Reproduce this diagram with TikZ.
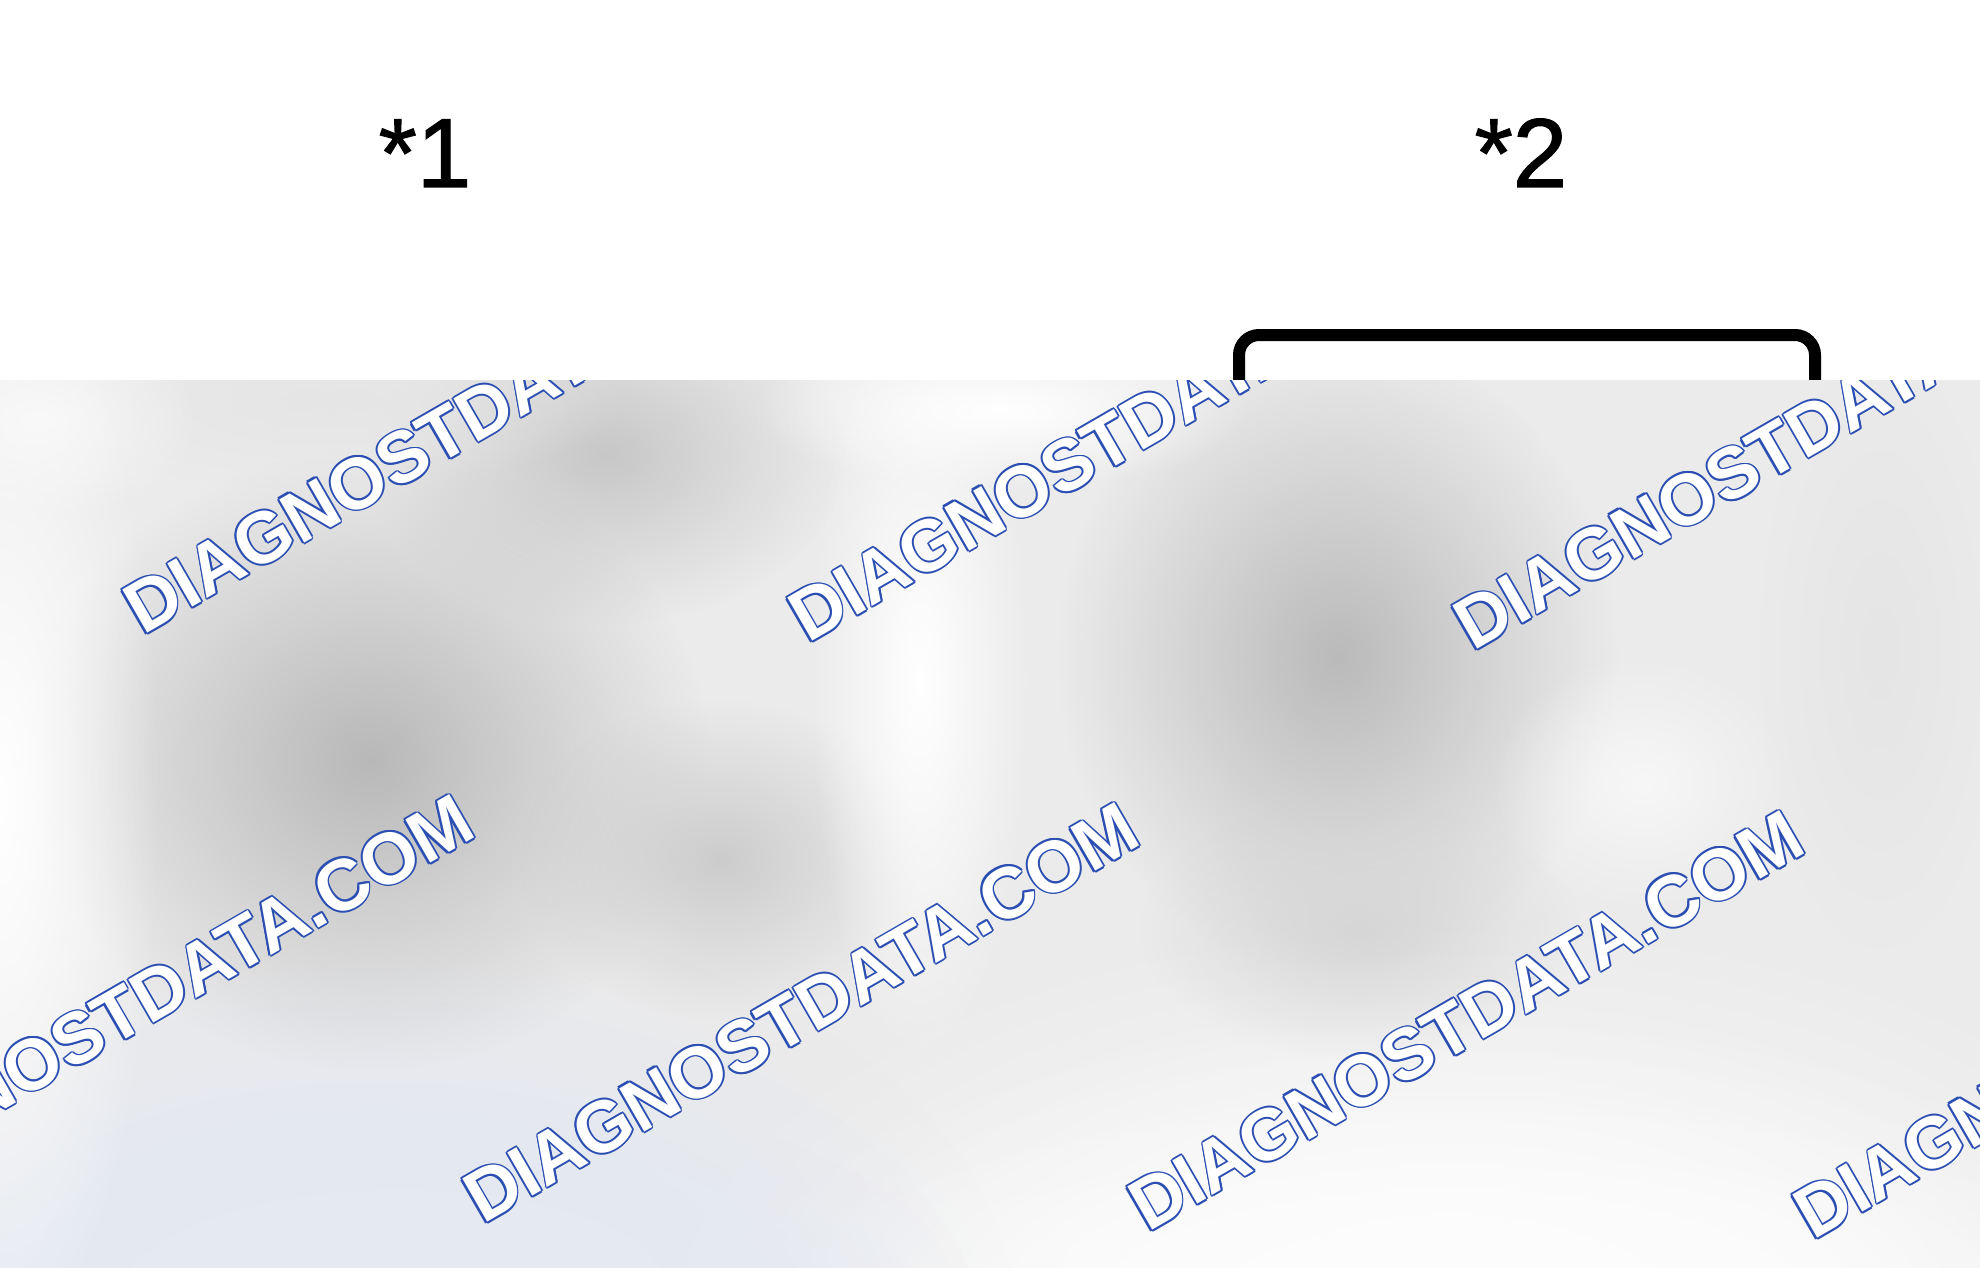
\documentclass[tikz,border=0pt]{standalone}
\usepackage{fontspec}
\setmainfont{Liberation Sans}
\newfontfamily\lblfont{Liberation Sans}[FakeBold=1.2]
\usetikzlibrary{fadings}
\tikzfading[name=softblob, inner color=transparent!0, outer color=transparent!100]
\definecolor{wmblue}{HTML}{2B4EB2}
\definecolor{basegray}{HTML}{EBEBEB}
\definecolor{bluetint}{HTML}{E4E9F3}
\definecolor{paper}{HTML}{FDFDFD}
\newcommand\wmark[3]{%
  \foreach \dx/\dy in {1.8/0,-1.8/0,0/1.8,0/-1.8,1.3/1.3,-1.3/1.3,1.3/-1.3,-1.3/-1.3}{%
    \node[wmo] at ([shift={(\dx,\dy)}]#2,#3) {DIAGNOSTDATA.COM};}%
  \node[wmf] (#1) at (#2,#3) {DIAGNOSTDATA.COM};%
}
\begin{document}
\begin{tikzpicture}[x=1pt,y=-1pt,
  lbl/.style={inner sep=0pt, font=\lblfont\fontsize{98}{98}\selectfont, anchor=base},
  bracketline/.style={line width=12pt, rounded corners=20pt},
  wmo/.style={inner sep=0pt, text=wmblue, font=\bfseries\fontsize{72.5}{72.5}\selectfont, anchor=base west, rotate=30},
  wmf/.style={wmo, text=white},
  blob/.style={path fading=softblob}]
\useasboundingbox (0,0) rectangle (1980,1268);
\fill[white] (0,0) rectangle (1980,1268);

% labels
\node[lbl] (l1) at (425,187) {*1};
\node[lbl] (l2) at (1521,187) {*2};

% bracket under *2
\coordinate (bl) at (1239,420);
\coordinate (br) at (1815,420);
\draw[bracketline] (bl) -- (1239,335) -- (1815,335) -- (br);

% blurred grey region with watermark
\begin{scope}
\clip (0,380) rectangle (1980,1268);
\fill[basegray] (0,380) rectangle (1980,1268);
% bottom: white on the right, bluish on the left
\fill[paper, blob] (1450,1330) ellipse (820 and 420);
\fill[paper, blob] (1450,1330) ellipse (760 and 330);
\fill[paper, blob] (1450,1300) ellipse (700 and 220);
\fill[bluetint, blob] (380,1330) ellipse (640 and 420);
\fill[bluetint, blob] (380,1330) ellipse (600 and 330);
\fill[bluetint, blob] (400,1300) ellipse (560 and 220);
% dark blobs
\fill[black!22, blob] (606,455) ellipse (240 and 170);
\fill[black!28, blob] (370,760) ellipse (340 and 310);
\fill[black!20, blob] (720,860) ellipse (200 and 160);
\fill[black!27, blob] (1338,657) ellipse (280 and 320);
\fill[black!16, blob] (1360,930) ellipse (220 and 130);
\fill[black!10, blob] (1880,650) ellipse (120 and 300);
\fill[black!10, blob] (330,400) ellipse (300 and 90);
% light areas
\fill[white, blob] (920,680) ellipse (110 and 380);
\fill[white, blob] (1000,410) ellipse (250 and 80);
\fill[white!60!basegray, blob] (1642,783) ellipse (150 and 130);
\fill[white, blob] (0,800) ellipse (160 and 560);
\fill[white!70!basegray, blob] (40,420) ellipse (160 and 100);
% watermark
\wmark{w1}{143}{636}
\wmark{w2}{808}{644}
\wmark{w3}{1473}{652}
\wmark{w4}{-182}{1217}
\wmark{w5}{483}{1225}
\wmark{w6}{1148}{1233}
\wmark{w7}{1813}{1241}
\end{scope}
\end{tikzpicture}
\end{document}
